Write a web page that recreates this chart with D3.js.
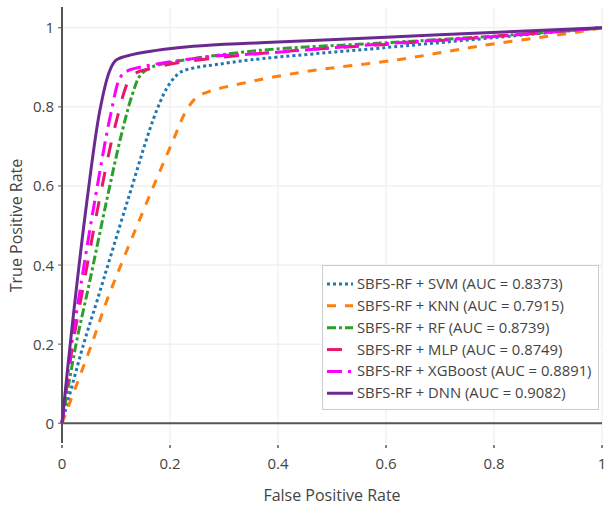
<!DOCTYPE html>
<html>
<head>
    <meta charset="utf-8">
    <title>ROC curves</title>
    <script src="https://d3js.org/d3.v7.min.js"></script>
    <style>
        body { margin: 0; background: #fff; font-family: "Open Sans", sans-serif; }
        .tick-label { font-size: 15px; fill: #444; }
        .axis-title { font-size: 16px; fill: #444; }
        .legend-text { font-size: 14.8px; fill: #444; }
    </style>
</head>
<body style="overflow: hidden;">
<script>
    // ROC points
    var models = ["SBFS-RF + SVM", "SBFS-RF + KNN", "SBFS-RF + RF", "SBFS-RF + MLP", "SBFS-RF + XGBoost", "SBFS-RF + DNN"];
    var aucs = ["0.8373", "0.7915", "0.8739", "0.8749", "0.8891", "0.9082"];

    var svmFpr = [0, 0.04, 0.065, 0.122, 0.175, 0.2, 0.22, 0.25, 0.286, 0.35, 0.6, 0.8, 1];
    var svmTpr = [0, 0.2, 0.31, 0.565, 0.79, 0.86, 0.888, 0.9, 0.907, 0.919, 0.95, 0.975, 1];

    var knnFpr = [0, 0.055, 0.083, 0.159, 0.206, 0.23, 0.25, 0.275, 0.35, 0.45, 0.626, 0.774, 0.959, 1];
    var knnTpr = [0, 0.2, 0.31, 0.565, 0.716, 0.79, 0.825, 0.84, 0.864, 0.889, 0.92, 0.954, 0.99, 1];

    var rfFpr = [0, 0.026, 0.05, 0.083, 0.11, 0.13, 0.145, 0.165, 0.2, 0.367, 0.6, 0.854, 1];
    var rfTpr = [0, 0.2, 0.35, 0.565, 0.73, 0.83, 0.88, 0.9, 0.912, 0.943, 0.962, 0.984, 1];

    var mlpFpr = [0, 0.02, 0.04, 0.07, 0.1, 0.125, 0.14, 0.165, 0.212, 0.367, 0.6, 0.8, 1];
    var mlpTpr = [0, 0.2, 0.35, 0.57, 0.76, 0.87, 0.888, 0.897, 0.911, 0.935, 0.958, 0.978, 1];

    var xgbFpr = [0, 0.018, 0.035, 0.061, 0.09, 0.108, 0.12, 0.15, 0.274, 0.367, 0.6, 0.8, 1];
    var xgbTpr = [0, 0.2, 0.35, 0.565, 0.78, 0.875, 0.89, 0.902, 0.927, 0.935, 0.96, 0.978, 1];

    var dnnFpr = [0, 0.02, 0.046, 0.07, 0.088, 0.1, 0.13, 0.243, 0.367, 0.6, 0.774, 1];
    var dnnTpr = [0, 0.26, 0.56, 0.79, 0.89, 0.918, 0.932, 0.953, 0.962, 0.976, 0.987, 1];

    var xTicks = [0, 0.2, 0.4, 0.6, 0.8, 1];
    var yTicks = [0, 0.2, 0.4, 0.6, 0.8, 1];

    // styles
    var colors = ["#1f77b4", "#ff7f0e", "#2ca02c", "#e8196b", "#ff00ff", "#6b2a8f"];
    var dashes = ["3,3", "9,9", "9,3,3,3", "15,15", "15,6,3,6", null];

    var fprs = [svmFpr, knnFpr, rfFpr, mlpFpr, xgbFpr, dnnFpr];
    var tprs = [svmTpr, knnTpr, rfTpr, mlpTpr, xgbTpr, dnnTpr];

    var W = 604, H = 509;
    var plotL = 62, plotR = 602, plotT = 8, plotB = 443;

    var svg = d3.select("body").append("svg")
        .attr("width", W)
        .attr("height", H);

    var xscale = d3.scaleLinear().domain([0, 1]).range([plotL, plotR]);
    var yscale = d3.scaleLinear().domain([-0.05, 1.05]).range([plotB, plotT]);

    // grid
    svg.selectAll(".xgrid")
        .data(xTicks.filter(function(d) { return d > 0; }))
      .enter().append("line")
        .attr("x1", function(d) { return xscale(d); })
        .attr("x2", function(d) { return xscale(d); })
        .attr("y1", plotT)
        .attr("y2", plotB)
        .attr("stroke", "#ebebeb")
        .attr("stroke-width", 1);

    svg.selectAll(".ygrid")
        .data(yTicks.filter(function(d) { return d > 0; }))
      .enter().append("line")
        .attr("x1", plotL)
        .attr("x2", plotR)
        .attr("y1", function(d) { return yscale(d); })
        .attr("y2", function(d) { return yscale(d); })
        .attr("stroke", "#ebebeb")
        .attr("stroke-width", 1);

    // zero line and y axis line
    svg.append("line")
        .attr("x1", plotL).attr("x2", plotR)
        .attr("y1", yscale(0)).attr("y2", yscale(0))
        .attr("stroke", "#555").attr("stroke-width", 2);

    svg.append("line")
        .attr("x1", xscale(0)).attr("x2", xscale(0))
        .attr("y1", plotT - 1).attr("y2", plotB)
        .attr("stroke", "#555").attr("stroke-width", 2);

    // curves
    var line = d3.line()
        .x(function(d) { return xscale(d[0]); })
        .y(function(d) { return yscale(d[1]); })
        .curve(d3.curveCatmullRom.alpha(0.5));

    models.forEach(function(m, i) {
        var pts = fprs[i].map(function(f, j) { return [f, tprs[i][j]]; });
        svg.append("path")
            .datum(pts)
            .attr("d", line)
            .attr("fill", "none")
            .attr("stroke", colors[i])
            .attr("stroke-width", 3)
            .attr("stroke-dasharray", dashes[i])
            .attr("stroke-linejoin", "round");
    });

    // x ticks
    svg.selectAll(".xtick")
        .data(xTicks)
      .enter().append("line")
        .attr("x1", function(d) { return xscale(d); })
        .attr("x2", function(d) { return xscale(d); })
        .attr("y1", plotB + 2)
        .attr("y2", plotB + 5)
        .attr("stroke", "#555")
        .attr("stroke-width", 1.5);

    svg.selectAll(".xlabel")
        .data(xTicks)
      .enter().append("text")
        .attr("class", "tick-label")
        .attr("x", function(d) { return xscale(d); })
        .attr("y", 469)
        .attr("text-anchor", "middle")
        .text(function(d) { return d3.format("~g")(d); });

    // y ticks
    svg.selectAll(".ytick")
        .data(yTicks)
      .enter().append("line")
        .attr("x1", plotL - 4)
        .attr("x2", plotL)
        .attr("y1", function(d) { return yscale(d); })
        .attr("y2", function(d) { return yscale(d); })
        .attr("stroke", "#555")
        .attr("stroke-width", 1);

    svg.selectAll(".ylabel")
        .data(yTicks)
      .enter().append("text")
        .attr("class", "tick-label")
        .attr("x", 54)
        .attr("y", function(d) { return yscale(d) + 5.5; })
        .attr("text-anchor", "end")
        .text(function(d) { return d3.format("~g")(d); });

    // axis titles
    svg.append("text")
        .attr("class", "axis-title")
        .attr("x", (plotL + plotR) / 2)
        .attr("y", 501)
        .attr("text-anchor", "middle")
        .text("False Positive Rate");

    svg.append("text")
        .attr("class", "axis-title")
        .attr("transform", "translate(22," + ((plotT + plotB) / 2) + ") rotate(-90)")
        .attr("text-anchor", "middle")
        .text("True Positive Rate");

    // legend
    var lg = svg.append("g").attr("transform", "translate(322.5,265.5)");
    lg.append("rect")
        .attr("width", 276)
        .attr("height", 144)
        .attr("fill", "#fff")
        .attr("stroke", "#cccccc")
        .attr("stroke-width", 1);

    models.forEach(function(m, i) {
        var cy = 18.5 + i * 21.85;
        lg.append("line")
            .attr("x1", 4.5).attr("x2", 30.5)
            .attr("y1", cy).attr("y2", cy)
            .attr("stroke", colors[i])
            .attr("stroke-width", 3)
            .attr("stroke-dasharray", dashes[i]);
        lg.append("text")
            .attr("class", "legend-text")
            .attr("x", 34.5)
            .attr("y", cy + 5)
            .text(m + " (AUC = " + aucs[i] + ")");
    });
</script>
</body>
</html>
